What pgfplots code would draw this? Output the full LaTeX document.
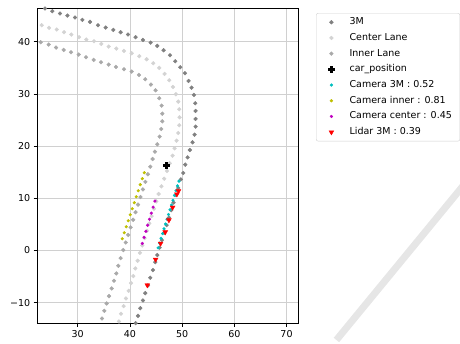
\documentclass[border=0pt]{standalone}
\usepackage{fontspec}
\setmainfont{DejaVu Sans}
\usepackage{pgfplots}
\pgfplotsset{compat=1.18}
\definecolor{trkouter}{HTML}{808080}
\definecolor{trkcenter}{HTML}{D3D3D3}
\definecolor{trkinner}{HTML}{A9A9A9}
\definecolor{mplc}{HTML}{00BFBF}
\definecolor{mply}{HTML}{BFBF00}
\definecolor{mplm}{HTML}{BF00BF}
\definecolor{gridc}{HTML}{D0D0D0}
\definecolor{strokec}{HTML}{E6E6E6}
\begin{document}
\begin{tikzpicture}[x=1pt,y=1pt]
% background diagonal stroke (pixel coordinates of the picture)
\begin{axis}[at={(0pt,0pt)},anchor=south west,scale only axis,width=460pt,height=343pt,
  xmin=0,xmax=460,ymin=0,ymax=343,hide axis,clip=false]
\addplot[color=strokec,line width=7pt] coordinates {(472,168) (336.4,3)};
\end{axis}
\begin{axis}[at={(37pt,19.5pt)},anchor=south west,scale only axis,
  width=261pt,height=315.5pt,
  xmin=22.2,xmax=72.2,ymin=-14,ymax=46.5,
  xtick={30,40,50,60,70},xticklabels={30,40,50,60,70},
  ytick={-10,0,10,20,30,40},yticklabels={−10,0,10,20,30,40},
  xtick pos=bottom,ytick pos=left,
  ticklabel style={font=\fontsize{9.5}{11}\selectfont},
  tick align=outside,major tick length=3.3pt,
  tick style={black,line width=0.8pt},
  grid=major,major grid style={color=gridc,line width=0.8pt},
  axis line style={black,line width=0.8pt},
  legend cell align=left,
  legend image code/.code={\path (-7pt,0pt) (7pt,0pt);\draw[#1] plot coordinates {(0pt,0pt)};},
  legend style={at={(1.069,0.984)},anchor=north west,draw=black!18,rounded corners=2pt,
    font=\fontsize{9.5}{11}\selectfont,
    nodes={inner sep=0pt,text height=7pt,text depth=2pt},
    row sep=6.7pt,column sep=11pt,inner xsep=8pt,inner ysep=4.5pt},
]
\addplot[only marks,mark=*,mark size=1.9pt,color=trkouter] coordinates {
(23.74,46.40)(25.14,45.89)(26.61,45.44)(28.02,45.05)(29.48,44.67)(30.89,44.22)(32.35,43.84)(33.89,43.20)(35.35,42.75)(36.82,42.30)(38.22,41.86)(39.63,41.41)(41.09,40.90)(42.50,40.38)(43.97,39.87)(45.24,39.23)(46.45,38.40)(47.67,37.44)(48.69,36.29)(49.64,35.14)(50.54,33.99)(51.24,32.51)(51.81,31.23)(52.26,29.83)(52.51,28.23)(52.58,26.76)(52.58,25.22)(52.58,23.75)(52.39,22.21)(52.00,20.74)(51.49,19.27)(51.05,17.86)(50.60,16.46)(50.22,14.86)(49.77,13.64)(49.26,11.98)(48.81,10.63)(48.36,9.19)(47.92,7.75)(47.47,6.31)(47.03,4.87)(46.58,3.43)(46.13,1.99)(45.69,0.55)(45.24,-0.88)(44.86,-2.23)(44.41,-3.76)(43.90,-5.23)(43.45,-6.70)(42.94,-8.18)(42.50,-9.58)(41.99,-11.06)(41.55,-12.53)(41.09,-13.93)
};
\addlegendentry{3M}
\addplot[only marks,mark=*,mark size=1.9pt,color=trkcenter] coordinates {
(23.10,43.20)(24.51,42.69)(25.98,42.37)(27.38,41.86)(28.78,41.41)(30.25,40.90)(31.65,40.45)(33.12,40.13)(34.52,39.62)(35.93,39.10)(37.39,38.72)(38.86,38.27)(40.33,37.83)(41.80,37.25)(43.20,36.67)(44.47,35.91)(45.62,35.01)(46.64,33.86)(47.54,32.64)(48.24,31.36)(48.81,29.96)(49.26,28.55)(49.45,27.08)(49.52,25.54)(49.45,24.01)(49.26,22.53)(48.94,21.06)(48.56,19.59)(48.18,18.18)(47.64,16.71)(47.11,15.24)(46.57,13.77)(46.04,12.30)(45.50,10.83)(45.05,9.42)(44.61,8.01)(44.16,6.60)(43.71,5.19)(43.26,3.78)(42.82,2.37)(42.37,0.97)(41.92,-0.44)(41.48,-1.97)(41.03,-3.44)(40.65,-4.91)(40.20,-6.26)(39.76,-7.73)(39.24,-9.20)(38.80,-10.67)(38.29,-12.14)(37.90,-13.61)
};
\addlegendentry{Center Lane}
\addplot[only marks,mark=*,mark size=1.9pt,color=trkinner] coordinates {
(22.91,39.94)(24.44,39.49)(25.85,38.91)(27.31,38.46)(28.72,38.02)(30.19,37.57)(31.59,37.06)(33.06,36.55)(34.46,36.10)(35.93,35.65)(37.33,35.20)(38.86,34.75)(40.33,34.31)(41.73,33.67)(42.94,32.83)(44.03,31.81)(44.92,30.72)(45.62,29.19)(46.07,27.78)(46.20,26.24)(46.20,24.77)(46.01,23.30)(45.69,21.83)(45.24,20.36)(44.79,18.95)(44.35,17.54)(43.90,16.07)(43.43,14.62)(42.96,13.16)(42.49,11.71)(42.02,10.25)(41.55,8.80)(41.08,7.35)(40.61,5.89)(40.14,4.44)(39.67,2.98)(39.20,1.53)(38.73,0.08)(38.22,-1.46)(37.78,-2.93)(37.39,-4.40)(36.95,-5.81)(36.50,-7.28)(35.99,-8.75)(35.54,-10.16)(35.10,-11.57)(34.65,-13.04)
};
\addlegendentry{Inner Lane}
\addplot[only marks,mark=+,mark size=3.2pt,color=black,mark options={line width=2.4pt}] coordinates {(47.03,16.26)};
\addlegendentry{car\_position}
\addplot[only marks,mark=*,mark size=1.4pt,color=mplc] coordinates {
(49.40,13.30)(49.11,12.39)(48.83,11.47)(48.54,10.56)(48.26,9.64)(47.97,8.73)(47.69,7.81)(47.40,6.90)(47.11,5.99)(46.83,5.07)(46.54,4.16)(46.26,3.24)(45.97,2.33)(45.69,1.41)(45.40,0.50)
};
\addlegendentry{Camera 3M : 0.52}
\addplot[only marks,mark=*,mark size=1.4pt,color=mply] coordinates {
(42.75,14.92)(42.37,13.77)(41.98,12.62)(41.60,11.46)(41.22,10.31)(40.84,9.16)(40.45,8.01)(40.07,6.86)(39.69,5.70)(39.30,4.55)(38.92,3.40)(38.54,2.25)
};
\addlegendentry{Camera inner : 0.81}
\addplot[only marks,mark=*,mark size=1.4pt,color=mplm] coordinates {
(44.79,9.48)(44.44,8.32)(44.10,7.16)(43.75,6.00)(43.40,4.84)(43.06,3.68)(42.71,2.52)(42.37,1.36)
};
\addlegendentry{Camera center : 0.45}
\addplot[only marks,mark=triangle*,mark size=2.8pt,color=red,mark options={rotate=180}] coordinates {
(49.30,11.40)(49.00,10.80)(48.18,8.27)(47.47,5.83)(46.77,3.53)(45.88,1.36)(44.92,-1.71)(43.33,-6.64)
};
\addlegendentry{Lidar 3M : 0.39}
\end{axis}
\pgfresetboundingbox
\path[use as bounding box] (0pt,0pt) rectangle (460pt,343pt);
\end{tikzpicture}
\end{document}
